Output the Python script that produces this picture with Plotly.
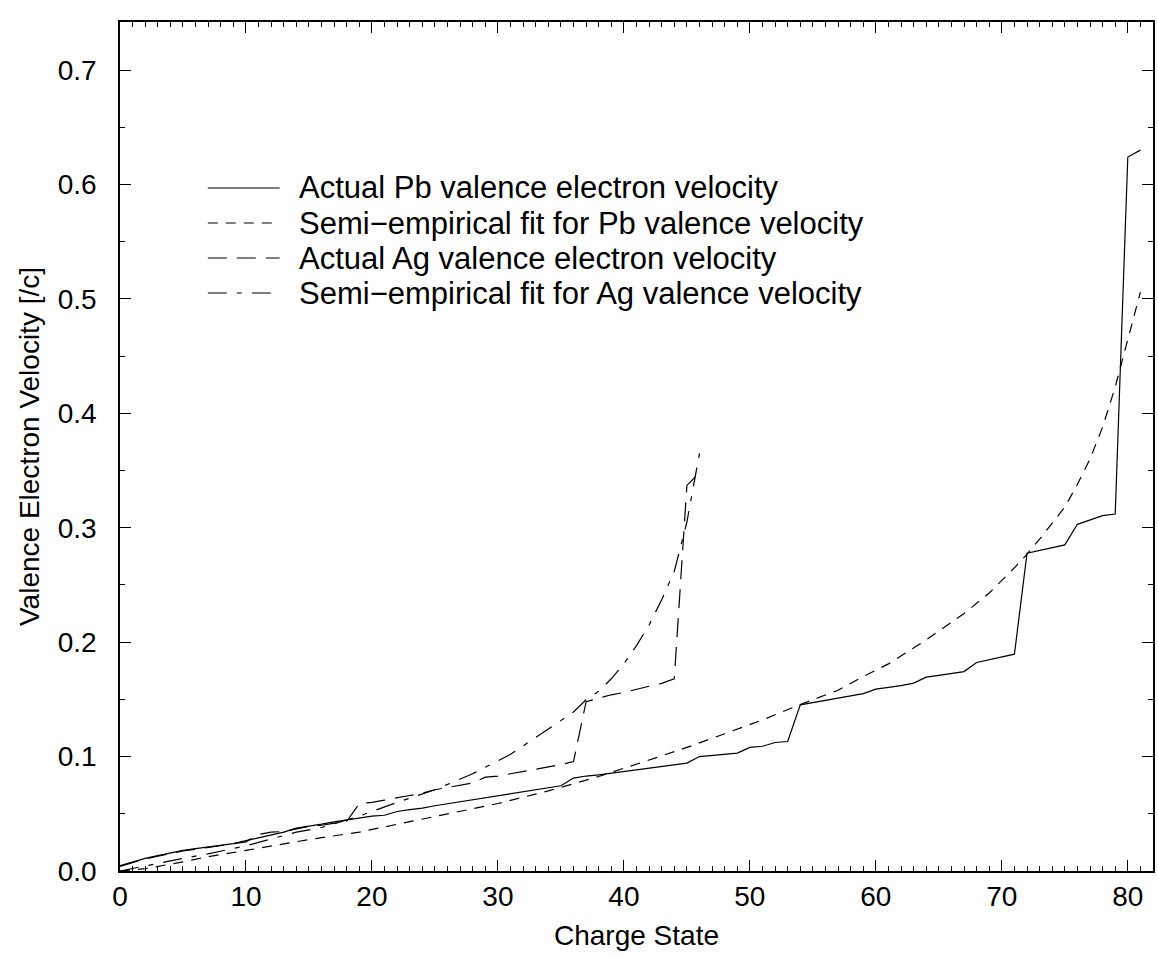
import plotly.graph_objects as go

# Pb actual valence electron velocity (charge states 0..81)
pb_q = list(range(0, 82))
pb_v = [0.0046, 0.008, 0.011, 0.0135, 0.016, 0.018, 0.0195, 0.021, 0.0225, 0.024,
        0.0265, 0.029, 0.032, 0.034, 0.0375, 0.039, 0.041, 0.043, 0.0448, 0.046,
        0.048, 0.0487, 0.052, 0.0537, 0.055, 0.057, 0.0587, 0.0605, 0.062, 0.064,
        0.0657, 0.0675, 0.069, 0.071, 0.0725, 0.0745, 0.0812, 0.083, 0.084, 0.0855,
        0.087, 0.088, 0.0895, 0.091, 0.0925, 0.0943, 0.100, 0.101, 0.102, 0.103,
        0.108, 0.109, 0.1123, 0.1132, 0.1452, 0.147, 0.149, 0.151, 0.153, 0.155,
        0.159, 0.1605, 0.162, 0.1642, 0.1694, 0.171, 0.1725, 0.1743, 0.1822, 0.1845,
        0.1874, 0.1895, 0.2777, 0.280, 0.2825, 0.285, 0.303, 0.3065, 0.3106, 0.312,
        0.624, 0.630]

# Semi-empirical fit for Pb
pbfit_q = [0, 2, 5, 7, 10, 12, 15, 19, 23, 27, 30, 34, 38, 42, 45, 48, 51, 54, 57,
           59, 61, 64, 67, 69, 71, 72, 73, 75, 76, 77, 78, 79, 80, 81]
pbfit_v = [0.0, 0.002, 0.008, 0.0125, 0.018, 0.022, 0.0275, 0.034, 0.043, 0.052,
           0.059, 0.070, 0.0826, 0.097, 0.108, 0.120, 0.132, 0.1455, 0.158, 0.170,
           0.181, 0.202, 0.225, 0.243, 0.265, 0.277, 0.290, 0.318, 0.338, 0.360,
           0.388, 0.423, 0.465, 0.506]

# Ag actual valence electron velocity (charge states 0..46)
ag_q = list(range(0, 47))
ag_v = [0.004, 0.0075, 0.0105, 0.013, 0.0155, 0.0175, 0.019, 0.0205, 0.022, 0.0235,
        0.0255, 0.032, 0.034, 0.0345, 0.037, 0.039, 0.040, 0.042, 0.0435, 0.0588,
        0.060, 0.062, 0.0637, 0.066, 0.068, 0.071, 0.073, 0.075, 0.077, 0.082,
        0.083, 0.085, 0.087, 0.089, 0.091, 0.093, 0.0957, 0.148, 0.151, 0.154,
        0.156, 0.159, 0.1615, 0.164, 0.168, 0.337, 0.348]

# Semi-empirical fit for Ag
agfit_q = [0, 3, 5, 7, 10, 13, 14, 16, 19, 22, 25, 28, 31, 34, 36, 37, 38, 39, 40,
           41, 42, 43, 44, 45, 46]
agfit_v = [0.0, 0.007, 0.011, 0.015, 0.022, 0.031, 0.034, 0.038, 0.048, 0.060,
           0.071, 0.085, 0.102, 0.124, 0.139, 0.1496, 0.157, 0.168, 0.181, 0.197,
           0.215, 0.237, 0.262, 0.305, 0.365]

names = ["Actual Pb valence electron velocity",
         "Semi\u2212empirical fit for Pb valence velocity",
         "Actual Ag valence electron velocity",
         "Semi\u2212empirical fit for Ag valence velocity"]
dashes = ["solid", "10px,8px", "19px,10px", "19px,10px,5px,10px"]

FONT = "Liberation Sans, Arial, Helvetica, sans-serif"

fig = go.Figure()
series = [(pb_q, pb_v), (pbfit_q, pbfit_v), (ag_q, ag_v), (agfit_q, agfit_v)]
for (xs, ys), nm, ds in zip(series, names, dashes):
    fig.add_trace(go.Scatter(x=xs, y=ys, mode="lines", name=nm, showlegend=False,
                             line=dict(color="black", width=1.2, dash=ds)))

axis_common = dict(
    showline=True, linecolor="black", linewidth=1.5, mirror="ticks",
    ticks="inside", ticklen=11, tickwidth=1.2, tickcolor="black",
    showgrid=False, zeroline=False,
    tickfont=dict(family=FONT, size=28, color="black"),
    title_font=dict(family=FONT, size=28, color="black"),
)

fig.update_xaxes(range=[0, 82], dtick=10, tick0=0,
                 minor=dict(dtick=1, ticklen=5, ticks="inside", tickcolor="black", tickwidth=1),
                 title_text="Charge State", title_standoff=14, **axis_common)
fig.update_yaxes(range=[0, 0.742], dtick=0.1, tick0=0, tickformat=".1f",
                 minor=dict(dtick=0.05, ticklen=5, ticks="inside", tickcolor="black", tickwidth=1),
                 title_text="Valence Electron Velocity [/c]", title_standoff=10,
                 ticklabelstandoff=16, **axis_common)

# Legend drawn in paper coordinates (plot area: 120..1155 x, 22..871 y)
PL, PW, PT, PH = 120.0, 1035.0, 22.0, 849.0
def px2x(px):
    return (px - PL) / PW
def py2y(py):
    return (PT + PH - py) / PH

legend_rows = [188, 223, 258, 293]
shapes = []
annotations = []
for nm, ds, ry in zip(names, dashes, legend_rows):
    shapes.append(dict(type="line", xref="paper", yref="paper",
                       x0=px2x(208), x1=px2x(280), y0=py2y(ry), y1=py2y(ry),
                       line=dict(color="black", width=1.2, dash=ds)))
    annotations.append(dict(xref="paper", yref="paper", x=px2x(297), y=py2y(ry),
                            xanchor="left", yanchor="middle", showarrow=False,
                            text=nm, font=dict(family=FONT, size=31, color="black")))

fig.update_layout(
    width=1158, height=957,
    margin=dict(l=120, r=3, t=22, b=86),
    paper_bgcolor="white", plot_bgcolor="white",
    font=dict(family=FONT, size=28, color="black"),
    showlegend=False,
    shapes=shapes,
    annotations=annotations,
)

fig.write_html("out.html")
